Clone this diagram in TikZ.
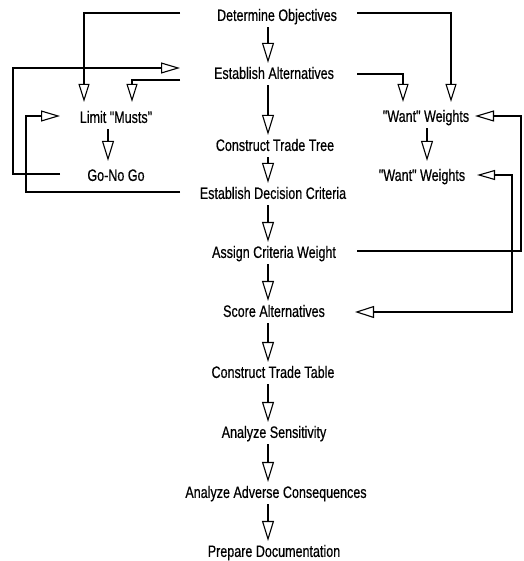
\documentclass[tikz,border=0pt]{standalone}
\usepackage{fontspec}
\setmainfont{Liberation Sans}[FakeStretch=0.76,FakeBold=0.5,Ligatures=TeXOff]
\usetikzlibrary{arrows.meta,calc}
\begin{document}
\begin{tikzpicture}[x=1pt,y=-1pt,
  lbl/.style={inner sep=0pt,text height=11.8pt,text depth=0pt,font=\fontsize{16.5}{19}\selectfont},
  conn/.style={line width=1.1pt},
  dn/.style={conn,-{Triangle[open,length=20pt,width=12pt]}},
  dns/.style={conn,-{Triangle[open,length=18pt,width=11pt]}},
  lt/.style={conn,-{Triangle[open,length=19pt,width=11pt]}},
  ltboth/.style={conn,{Triangle[open,length=18pt,width=10pt]}-{Triangle[open,length=19pt,width=12pt]}},
 ]
\useasboundingbox (0,0) rectangle (523,561);

\coordinate (stem) at (268,0);
\coordinate (mstem) at (108,0);
\coordinate (wstem) at (427,0);

\node[lbl] (obj) at (277,15) {Determine Objectives};
\node[lbl] (alt) at (274,73) {Establish Alternatives};
\node[lbl] (tree) at (275,145) {Construct Trade Tree};
\node[lbl] (crit) at (273,193) {Establish Decision Criteria};
\node[lbl] (assign) at (274,252) {Assign Criteria Weight};
\node[lbl] (score) at (274,311) {Score Alternatives};
\node[lbl] (table) at (273,372) {Construct Trade Table};
\node[lbl] (sens) at (274,432) {Analyze Sensitivity};
\node[lbl] (adv) at (276,492) {Analyze Adverse Consequences};
\node[lbl] (doc) at (274,551) {Prepare Documentation};
\node[lbl] (musts) at (116,117) {Limit "Musts"};
\node[lbl] (gonogo) at (116,175) {Go-No Go};
\node[lbl] (want1) at (426,116) {"Want" Weights};
\node[lbl] (want2) at (422,175) {"Want" Weights};

% main column
\foreach \a/\b in {obj/alt,alt/tree,tree/crit,crit/assign,assign/score,score/table,table/sens,sens/adv,adv/doc}{
  \draw[dn] ($(\a.south -| stem)+(0,6)$) -- ($(\b.north -| stem)+(0,-4)$);
}
% side columns
\draw[dn] ($(musts.south -| mstem)+(0,6)$) -- ($(gonogo.north -| mstem)+(0,-8)$);
\draw[dn] ($(want1.south -| wstem)+(0,6)$) -- ($(want2.north -| wstem)+(0,-8)$);

% branches
\draw[dns] ($(obj.center)+(-97,-2)$) -| ($(musts.north)+(-32,-9)$);
\draw[dns] ($(obj.center)+(80,-2)$) -| ($(want1.north)+(25,-8)$);
\draw[dns] ($(alt.center)+(83,1)$) -| ($(want1.north)+(-23,-8)$);
\draw[dns] ($(alt.center)+(-94,7)$) -| ($(musts.north)+(16,-9)$);

% loops
\draw[lt] ($(gonogo.center)+(-56,-1)$) -- ++(-47,0) |- ($(alt.center)+(-94,-5)$);
\draw[lt] ($(crit.center)+(-93,-1)$) -- ++(-154,0) |- ($(musts.center)+(-56,-1)$);
\draw[lt] ($(assign.center)+(83,-1)$) -- ++(164,0) |- ($(want1.center)+(49,0)$);
\draw[ltboth] ($(want2.center)+(55,0)$) -- ++(35,0) |- ($(score.center)+(81,1)$);
\end{tikzpicture}
\end{document}
